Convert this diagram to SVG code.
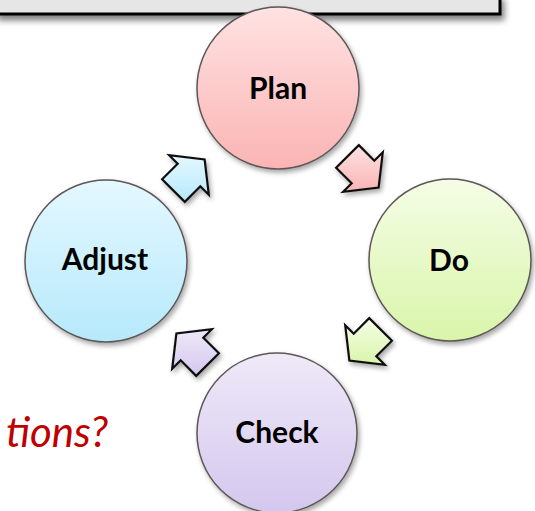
<svg xmlns="http://www.w3.org/2000/svg" width="535" height="511" viewBox="0 0 535 511">
<defs>
<linearGradient id="gPlan" x1="0" y1="0" x2="0" y2="1"><stop offset="0" stop-color="#ffe2e2"/><stop offset="1" stop-color="#fbb4b4"/></linearGradient>
<linearGradient id="gDo" x1="0" y1="0" x2="0" y2="1"><stop offset="0" stop-color="#f5fde6"/><stop offset="1" stop-color="#d9f5aa"/></linearGradient>
<linearGradient id="gAdj" x1="0" y1="0" x2="0" y2="1"><stop offset="0" stop-color="#e4f8ff"/><stop offset="1" stop-color="#b6e9fb"/></linearGradient>
<linearGradient id="gChk" x1="0" y1="0" x2="0" y2="1"><stop offset="0" stop-color="#efe9f8"/><stop offset="1" stop-color="#d4c7ee"/></linearGradient>
<filter id="sh" x="-20%" y="-20%" width="150%" height="150%">
<feGaussianBlur in="SourceAlpha" stdDeviation="2.5"/>
<feOffset dx="2" dy="3" result="b"/>
<feComponentTransfer><feFuncA type="linear" slope="0.35"/></feComponentTransfer>
<feMerge><feMergeNode/><feMergeNode in="SourceGraphic"/></feMerge>
</filter>
<filter id="shBox" x="-5%" y="-50%" width="110%" height="300%">
<feGaussianBlur in="SourceAlpha" stdDeviation="3"/>
<feOffset dx="3" dy="5"/>
<feComponentTransfer><feFuncA type="linear" slope="0.5"/></feComponentTransfer>
<feMerge><feMergeNode/><feMergeNode in="SourceGraphic"/></feMerge>
</filter>
</defs>
<style>
.node circle{stroke:#5e5656;stroke-width:1.5;filter:url(#sh)}
.lbl{font-family:Lato,"Open Sans",sans-serif;font-weight:bold;font-size:30px;fill:#000;text-anchor:middle}
.arr{stroke:#111;stroke-width:2.2;stroke-linejoin:miter;filter:url(#sh)}
</style>
<rect x="-4" y="-4" width="504" height="18" fill="#e6e6e6" stroke="#000" stroke-width="3" filter="url(#shBox)"/>
<text x="108" y="447" font-family="Lato,'Open Sans',sans-serif" font-style="italic" font-size="42" fill="#c00000" text-anchor="end">tions?</text>
<g id="connectors">
<polygon class="arr" fill="url(#gPlan)" points="358.8,145.1 374.3,160.7 382.8,152.2 378.6,187.6 343.2,191.8 351.7,183.3 336.1,167.8"/>
<polygon class="arr" fill="url(#gDo)" points="391.9,340.8 376.3,356.3 384.8,364.8 349.4,360.6 345.2,325.2 353.7,333.7 369.2,318.1"/>
<polygon class="arr" fill="url(#gChk)" points="196.2,375.9 180.7,360.3 172.2,368.8 176.4,333.4 211.8,329.2 203.3,337.7 218.9,353.2"/>
<polygon class="arr" fill="url(#gAdj)" points="162.1,179.2 177.7,163.7 169.2,155.2 204.6,159.4 208.8,194.8 200.3,186.3 184.8,201.9"/>
</g>
<g id="plan" class="node"><circle cx="278" cy="88" r="81" fill="url(#gPlan)"/><text class="lbl" x="278" y="99">Plan</text></g>
<g id="do" class="node"><circle cx="450" cy="260" r="81" fill="url(#gDo)"/><text class="lbl" x="449" y="271">Do</text></g>
<g id="adjust" class="node"><circle cx="106" cy="261" r="81" fill="url(#gAdj)"/><text class="lbl" x="105" y="270">Adjust</text></g>
<g id="check" class="node"><circle cx="277" cy="433" r="80" fill="url(#gChk)"/><text class="lbl" x="277" y="443">Check</text></g>
</svg>
